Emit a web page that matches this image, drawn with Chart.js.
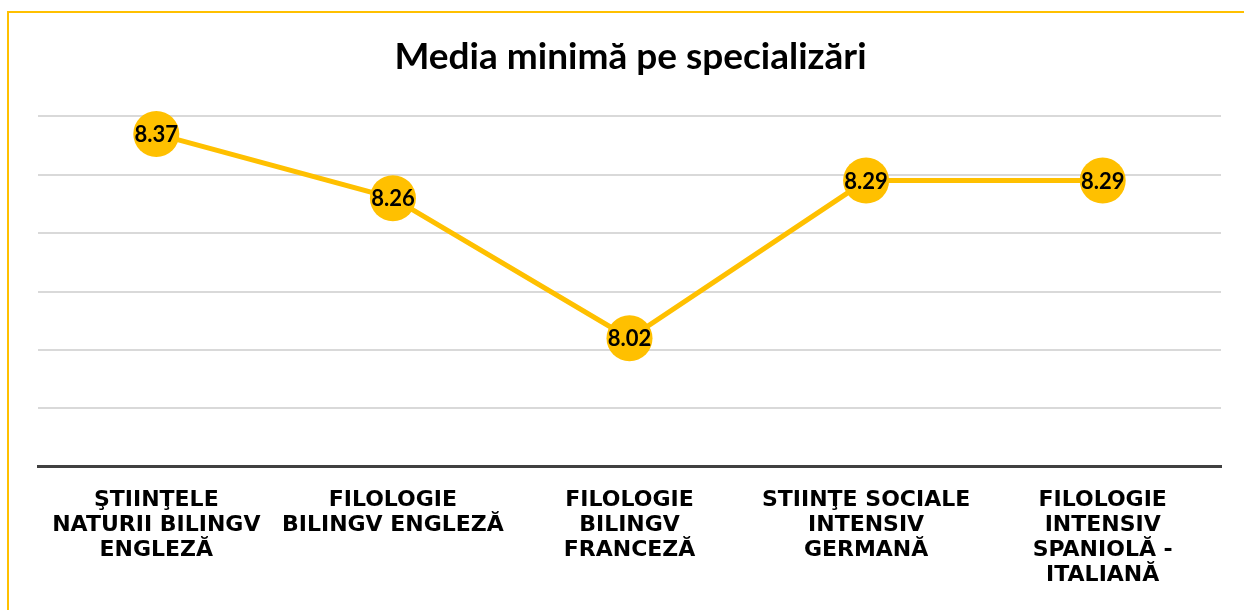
<!DOCTYPE html>
<html>
<head>
<meta charset="utf-8">
<script src="https://cdn.jsdelivr.net/npm/chart.js@4/dist/chart.umd.min.js"></script>
<style>
  html, body { margin: 0; padding: 0; background: #fff; overflow: hidden; }
  #frame { position: absolute; left: 7px; top: 11px; width: 1400px; height: 800px; border: 2px solid #FFC000; }
  #wrap { position: absolute; left: 0; top: 0; width: 1244px; height: 610px; }
</style>
</head>
<body>
<div id="frame"></div>
<div id="wrap"><canvas id="chart" width="1244" height="610"></canvas></div>
<script>
const categories = [
  ['ŞTIINŢELE', 'NATURII BILINGV', 'ENGLEZĂ'],
  ['FILOLOGIE', 'BILINGV ENGLEZĂ'],
  ['FILOLOGIE', 'BILINGV', 'FRANCEZĂ'],
  ['STIINŢE SOCIALE', 'INTENSIV', 'GERMANĂ'],
  ['FILOLOGIE', 'INTENSIV', 'SPANIOLĂ -', 'ITALIANĂ']
];
const mediaMinima = [8.37, 8.26, 8.02, 8.29, 8.29];
const yMin = 7.8, yMax = 8.4, yStep = 0.1;

// draws the value inside each point (no datalabels plugin offline)
const valueLabels = {
  id: 'valueLabels',
  afterDatasetsDraw(chart) {
    const ctx = chart.ctx;
    const meta = chart.getDatasetMeta(0);
    ctx.save();
    ctx.font = 'bold 22px Lato';
    ctx.fillStyle = '#000';
    ctx.textAlign = 'center';
    ctx.textBaseline = 'middle';
    meta.data.forEach((pt, i) => {
      ctx.fillText(mediaMinima[i].toFixed(2), pt.x, pt.y + 1);
    });
    ctx.restore();
  }
};

new Chart(document.getElementById('chart').getContext('2d'), {
  type: 'line',
  data: {
    labels: categories,
    datasets: [{
      data: mediaMinima,
      borderColor: '#FFC000',
      borderWidth: 5,
      backgroundColor: '#FFC000',
      pointRadius: 23,
      pointHoverRadius: 23,
      pointBorderWidth: 0,
      pointBackgroundColor: '#FFC000',
      tension: 0,
      clip: false
    }]
  },
  options: {
    responsive: false,
    animation: false,
    layout: { padding: { left: 38, right: 21, top: 0, bottom: 1 } },
    plugins: {
      legend: { display: false },
      tooltip: { enabled: false },
      title: {
        display: true,
        text: 'Media minimă pe specializări',
        color: '#000',
        font: { family: 'Lato', size: 37, weight: 'bold', lineHeight: 1.2 },
        padding: { top: 35, bottom: 37 }
      }
    },
    scales: {
      x: {
        offset: true,
        grid: { display: false, drawTicks: false },
        border: { display: true, color: '#404040', width: 3 },
        ticks: {
          color: '#000',
          font: { family: 'DejaVu Sans', size: 22, weight: 'bold', lineHeight: 1.14 },
          padding: 21,
          maxRotation: 0,
          autoSkip: false
        }
      },
      y: {
        min: yMin,
        max: yMax,
        ticks: { display: false, stepSize: yStep },
        grid: { color: '#d9d9d9', lineWidth: 2, drawTicks: false },
        border: { display: false }
      }
    }
  },
  plugins: [valueLabels]
});
</script>
</body>
</html>
